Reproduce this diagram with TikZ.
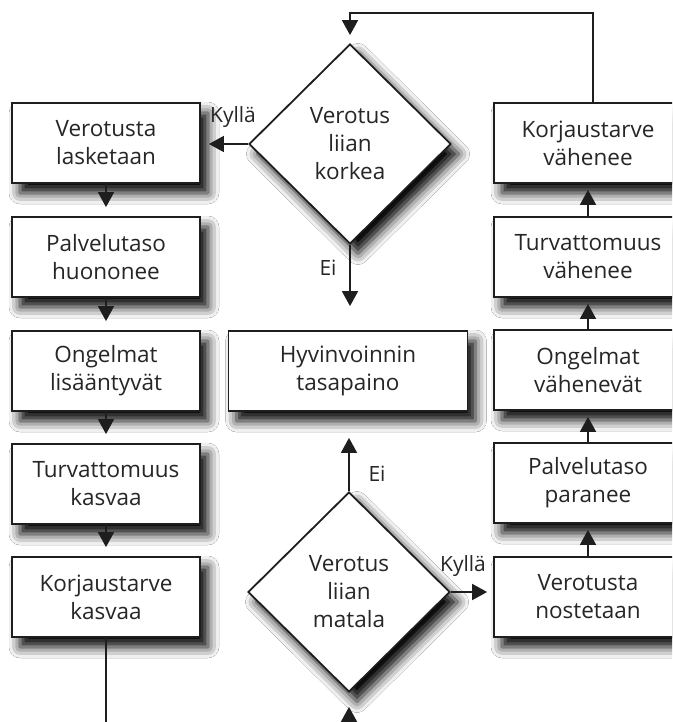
\documentclass[tikz,border=0pt]{standalone}
\usepackage{fontspec}
\setmainfont{Open Sans}
\usetikzlibrary{shapes.geometric,arrows.meta,shadows.blur}
\definecolor{ink}{HTML}{1E1E1E}
\definecolor{txt}{HTML}{262626}
\begin{document}
\begin{tikzpicture}[x=1pt,y=-1pt,
  shad/.style={blur shadow={shadow xshift=8pt, shadow yshift=-10pt, shadow blur radius=11pt, shadow opacity=100}},
  box/.style={draw=ink, line width=1.8pt, fill=white, minimum width=188pt, minimum height=80pt,
    inner sep=0pt, align=center, text=txt, font=\fontsize{22.5}{28}\selectfont, shad},
  dia/.style={diamond, draw=ink, line width=1.8pt, fill=white, minimum width=202pt, minimum height=200pt,
    inner sep=0pt, align=center, text=txt, font=\fontsize{22.5}{28}\selectfont, shad},
  arr/.style={draw=ink, line width=1.7pt, -{Triangle[width=16pt,length=15pt]}},
  lnk/.style={draw=ink, line width=1.7pt},
  lbl/.style={text=txt, font=\fontsize{21}{24}\selectfont, inner sep=0pt}]
\useasboundingbox (0,0) rectangle (672,722);
\clip (0,0) rectangle (672,722);
\fill[white] (0,0) rectangle (672,722);

% left column
\node[box] (l1) at (106,143) {Verotusta\\lasketaan};
\node[box] (l2) at (106,257) {Palvelutaso\\huononee};
\node[box] (l3) at (106,371) {Ongelmat\\lisääntyvät};
\node[box] (l4) at (106,484) {Turvattomuus\\kasvaa};
\node[box] (l5) at (106,597) {Korjaustarve\\kasvaa};

% right column
\node[box] (r1) at (588,143) {Korjaustarve\\vähenee};
\node[box] (r2) at (588,257) {Turvattomuus\\vähenee};
\node[box] (r3) at (588,370) {Ongelmat\\vähenevät};
\node[box] (r4) at (588,483) {Palvelutaso\\paranee};
\node[box] (r5) at (588,597) {Verotusta\\nostetaan};

% center
\node[box, minimum width=239pt] (c) at (348,371) {Hyvinvoinnin\\tasapaino};
\node[dia] (d1) at (350,144) {Verotus\\liian\\korkea};
\node[dia] (d2) at (349,592) {Verotus\\liian\\matala};

% left arrows
\foreach \a/\b in {l1/l2,l2/l3,l3/l4,l4/l5}
  \draw[arr, shorten >=9pt] (\a.south) -- (\b.north);
% right arrows
\foreach \a/\b in {r5/r4,r4/r3,r3/r2,r2/r1}
  \draw[arr, shorten >=6pt] (\a.north) -- (\b.south);

% decisions
\draw[arr, shorten >=8pt] (d1.west) -- (d1.west -| l1.east);
\draw[arr, shorten >=24pt] (d1.south) -- (d1.south |- c.north);
\draw[arr, shorten >=26pt] (d2.north) -- (d2.north |- c.south);
\draw[arr, shorten >=6pt] (d2.east) -- (d2.east -| r5.west);

\node[lbl] (k1) at (233,117) {Kyllä};
\node[lbl] (e1) at (328,268) {Ei};
\node[lbl] (e2) at (377,474) {Ei};
\node[lbl] (k2) at (463,566) {Kyllä};

% loops
\coordinate (tl) at (350,13);
\coordinate (bl) at (106,722);
\coordinate (bd) at (349,722);
\draw[arr, shorten >=8pt] ([xshift=5pt]r1.north) |- (tl) -- (d1.north);
\draw[lnk] (l5.south) -- (bl);
\draw[arr, shorten >=14pt] (bd) -- (d2.south);
\end{tikzpicture}
\end{document}
